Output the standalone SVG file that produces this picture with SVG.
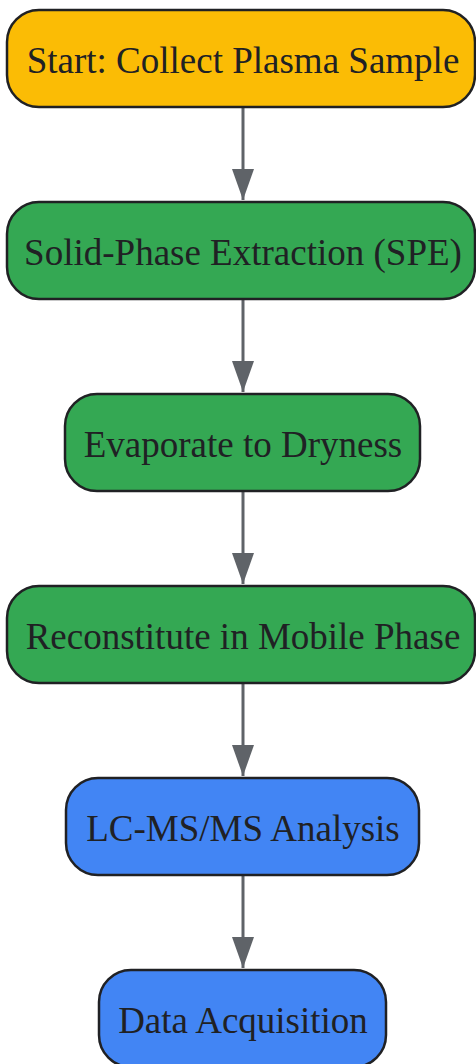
<svg xmlns="http://www.w3.org/2000/svg" width="476" height="1064" viewBox="0 0 476 1064">
<style>
.n{stroke:#202124;stroke-width:2.5}
.y{fill:#FBBC05}.g{fill:#34A853}.b{fill:#4285F4}
.t{font-family:"Liberation Serif",serif;font-size:37px;fill:#202124;text-anchor:middle;dominant-baseline:central}
.e{stroke:#5f6368;stroke-width:3;fill:none}
</style>
<defs>
<marker id="ah" markerWidth="31" markerHeight="22" refX="31" refY="11" orient="auto" markerUnits="userSpaceOnUse" viewBox="0 0 31 22">
<path d="M0,0 L31,11 L0,22 Z" fill="#5f6368"/>
</marker>
</defs>
<rect width="476" height="1064" fill="#fff"/>
<g id="edges">
<line class="e" x1="243" y1="107" x2="243" y2="200" marker-end="url(#ah)"/>
<line class="e" x1="243" y1="299" x2="243" y2="392" marker-end="url(#ah)"/>
<line class="e" x1="243" y1="491" x2="243" y2="584" marker-end="url(#ah)"/>
<line class="e" x1="243" y1="683" x2="243" y2="776" marker-end="url(#ah)"/>
<line class="e" x1="243" y1="875" x2="243" y2="968" marker-end="url(#ah)"/>
</g>
<g id="n1"><rect class="n y" x="7" y="10" width="468" height="97" rx="32"/><text class="t" x="243" y="60">Start: Collect Plasma Sample</text></g>
<g id="n2"><rect class="n g" x="7" y="202" width="468" height="97" rx="32"/><text class="t" x="243" y="252">Solid-Phase Extraction (SPE)</text></g>
<g id="n3"><rect class="n g" x="65" y="394" width="355" height="97" rx="32"/><text class="t" x="243" y="444">Evaporate to Dryness</text></g>
<g id="n4"><rect class="n g" x="7" y="586" width="468" height="97" rx="32"/><text class="t" x="243" y="636">Reconstitute in Mobile Phase</text></g>
<g id="n5"><rect class="n b" x="66" y="778" width="353" height="97" rx="32"/><text class="t" x="243" y="828">LC-MS/MS Analysis</text></g>
<g id="n6"><rect class="n b" x="99" y="970" width="287" height="97" rx="32"/><text class="t" x="243" y="1020">Data Acquisition</text></g>
</svg>
